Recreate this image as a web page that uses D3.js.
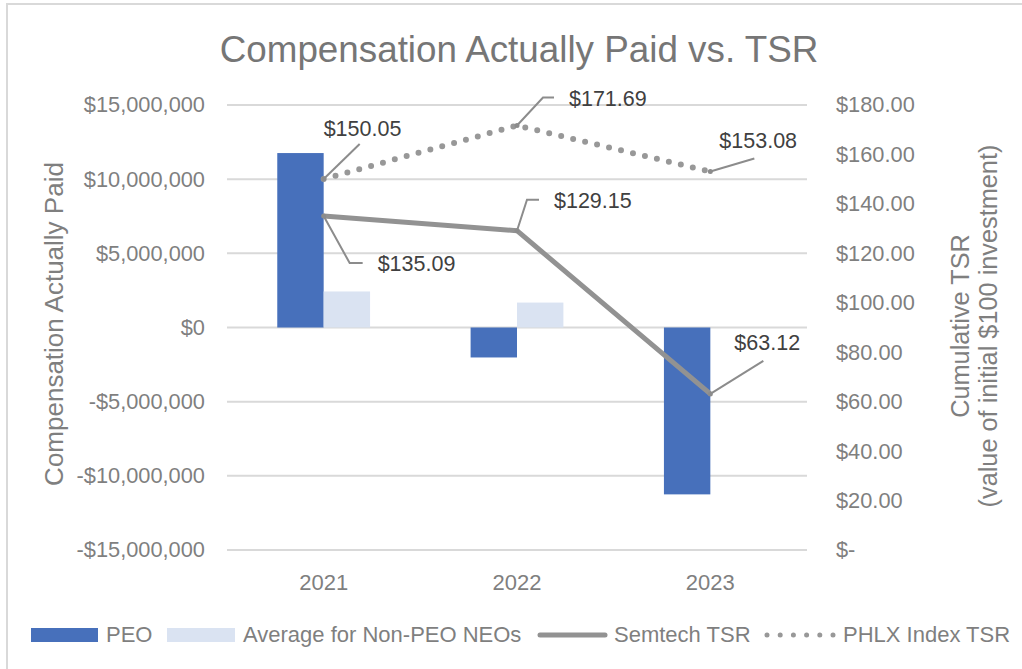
<!DOCTYPE html>
<html>
<head>
<meta charset="utf-8">
<script src="https://cdn.jsdelivr.net/npm/d3@7"></script>
<style>
  body { margin: 0; background: #fff; }
  svg { font-family: "Liberation Sans", Arial, sans-serif; }
</style>
</head>
<body>
<svg width="1022" height="669"></svg>
<script>
var years = ["2021", "2022", "2023"];
var peoCap = [11760000, -2020000, -11250000];
var nonPeoCap = [2430000, 1680000, 0];
var semtechTsr = [135.09, 129.15, 63.12];
var phlxTsr = [150.05, 171.69, 153.08];
var leftTicks = [-15000000, -10000000, -5000000, 0, 5000000, 10000000, 15000000];
var rightTicks = [0, 20, 40, 60, 80, 100, 120, 140, 160, 180];

var blue = "#4770bb", lightBlue = "#dae3f2", lineGrey = "#929292", dotGrey = "#989898";
var textGrey = "#7f7f7f";

var svg = d3.select("svg");

// outer frame
svg.append("rect")
  .attr("x", 7).attr("y", 4)
  .attr("width", 1040).attr("height", 700)
  .attr("fill", "none")
  .attr("stroke", "#d9d9d9")
  .attr("stroke-width", 2);

var plotLeft = 227, plotRight = 807, plotTop = 105, plotBottom = 550;

var x = d3.scaleBand().domain(years).range([plotLeft, plotRight])
  .paddingInner(0.52).paddingOuter(0.26);
var x1 = d3.scaleBand().domain(["peo", "non"]).range([0, x.bandwidth()]);
var yLeft = d3.scaleLinear().domain([-15000000, 15000000]).range([plotBottom, plotTop]);
var yRight = d3.scaleLinear().domain([0, 180]).range([plotBottom, plotTop]);

// title
svg.append("text")
  .attr("x", 519).attr("y", 62)
  .attr("text-anchor", "middle")
  .attr("font-size", 36.8)
  .attr("fill", "#767676")
  .text("Compensation Actually Paid vs. TSR");

// gridlines
svg.append("g")
  .selectAll("line")
  .data(leftTicks).enter().append("line")
  .attr("x1", plotLeft).attr("x2", plotRight)
  .attr("y1", function(d) { return yLeft(d); })
  .attr("y2", function(d) { return yLeft(d); })
  .attr("stroke", "#d9d9d9")
  .attr("stroke-width", 2);

function fmtMoney(v) {
  return v < 0 ? "-$" + d3.format(",")(-v) : "$" + d3.format(",")(v);
}

var leftAxis = d3.axisLeft(yLeft).tickValues(leftTicks).tickSize(0).tickPadding(0).tickFormat(fmtMoney);
var gl = svg.append("g").attr("transform", "translate(205,0)").call(leftAxis);
gl.select(".domain").remove();
gl.selectAll("text").attr("font-size", 21.8).attr("fill", textGrey).attr("font-family", null);

var rightAxis = d3.axisRight(yRight).tickValues(rightTicks).tickSize(0).tickPadding(0)
  .tickFormat(function(d) { return d === 0 ? "$-" : "$" + d3.format(".2f")(d); });
var gr = svg.append("g").attr("transform", "translate(836,0)").call(rightAxis);
gr.select(".domain").remove();
gr.selectAll("text").attr("font-size", 21.8).attr("fill", textGrey).attr("font-family", null);

// category labels
var xAxis = d3.axisBottom(x).tickSize(0).tickPadding(0);
var gx = svg.append("g").attr("transform", "translate(0,574)").call(xAxis);
gx.select(".domain").remove();
gx.selectAll("text").attr("font-size", 22).attr("fill", textGrey).attr("font-family", null);

// axis titles
svg.append("text")
  .attr("transform", "translate(63,324) rotate(-90)")
  .attr("text-anchor", "middle")
  .attr("font-size", 26)
  .attr("fill", textGrey)
  .text("Compensation Actually Paid");

var rt = svg.append("text")
  .attr("transform", "translate(969,326) rotate(-90)")
  .attr("text-anchor", "middle")
  .attr("font-size", 25.3)
  .attr("fill", textGrey);
rt.append("tspan").attr("x", 0).attr("dy", 0).text("Cumulative TSR");
rt.append("tspan").attr("x", 0).attr("dy", 28).text("(value of initial $100 investment)");

// bars
var barData = years.map(function(y, i) {
  return [{year: y, key: "peo", v: peoCap[i]}, {year: y, key: "non", v: nonPeoCap[i]}];
});
svg.append("g").selectAll("g")
  .data(barData).enter().append("g")
  .selectAll("rect")
  .data(function(d) { return d; }).enter().append("rect")
  .attr("x", function(d) { return x(d.year) + x1(d.key); })
  .attr("width", x1.bandwidth())
  .attr("y", function(d) { return yLeft(Math.max(0, d.v)); })
  .attr("height", function(d) { return Math.abs(yLeft(d.v) - yLeft(0)); })
  .attr("fill", function(d) { return d.key === "peo" ? blue : lightBlue; });

// lines
function cx(i) { return x(years[i]) + x.bandwidth() / 2; }
var line = d3.line()
  .x(function(d, i) { return cx(i); })
  .y(function(d) { return yRight(d); });

svg.append("path")
  .datum(phlxTsr)
  .attr("d", line)
  .attr("fill", "none")
  .attr("stroke", dotGrey)
  .attr("stroke-width", 6)
  .attr("stroke-linecap", "round")
  .attr("stroke-dasharray", "0,12.3");

svg.append("path")
  .datum(semtechTsr)
  .attr("d", line)
  .attr("fill", "none")
  .attr("stroke", lineGrey)
  .attr("stroke-width", 5)
  .attr("stroke-linejoin", "round");

// data labels with leader lines (offsets from the point)
var semtechLabelPos = [
  {leader: [[26, 47], [39, 47]], tx: 54, ty: 47},
  {leader: [[10, -31], [22, -31]], tx: 37, ty: -30},
  {leader: [[53, -33]], tx: 24, ty: -51}
];
var phlxLabelPos = [
  {leader: [[36, -35]], tx: 0, ty: -51},
  {leader: [[26, -28], [37, -28]], tx: 52, ty: -27},
  {leader: [[44, -13]], tx: 9, ty: -31}
];

function drawLabels(values, pos) {
  values.forEach(function(v, i) {
    var px = cx(i), py = yRight(v);
    var pts = [[px, py]].concat(pos[i].leader.map(function(p) { return [px + p[0], py + p[1]]; }));
    svg.append("path")
      .attr("d", d3.line()(pts))
      .attr("fill", "none")
      .attr("stroke", "#8c8c8c")
      .attr("stroke-width", 2);
    svg.append("circle")
      .attr("cx", px).attr("cy", py).attr("r", 2.5)
      .attr("fill", "#8c8c8c");
    svg.append("text")
      .attr("x", px + pos[i].tx).attr("y", py + pos[i].ty)
      .attr("dy", "0.35em")
      .attr("font-size", 21.5)
      .attr("fill", "#404040")
      .text("$" + d3.format(".2f")(v));
  });
}
drawLabels(phlxTsr, phlxLabelPos);
drawLabels(semtechTsr, semtechLabelPos);

// legend
var lg = svg.append("g").attr("font-size", 22).attr("fill", textGrey);
lg.append("rect").attr("x", 31).attr("y", 628).attr("width", 67).attr("height", 14).attr("fill", blue);
lg.append("text").attr("x", 106).attr("y", 634).attr("dy", "0.35em").text("PEO");
lg.append("rect").attr("x", 167).attr("y", 628).attr("width", 68).attr("height", 14).attr("fill", lightBlue);
lg.append("text").attr("x", 243).attr("y", 634).attr("dy", "0.35em").text("Average for Non-PEO NEOs");
lg.append("line").attr("x1", 540).attr("x2", 605).attr("y1", 635).attr("y2", 635)
  .attr("stroke", lineGrey).attr("stroke-width", 5).attr("stroke-linecap", "round");
lg.append("text").attr("x", 614).attr("y", 634).attr("dy", "0.35em").text("Semtech TSR");
lg.append("line").attr("x1", 767).attr("x2", 834).attr("y1", 635).attr("y2", 635)
  .attr("stroke", dotGrey).attr("stroke-width", 5).attr("stroke-linecap", "round")
  .attr("stroke-dasharray", "0,13.2");
lg.append("text").attr("x", 843).attr("y", 634).attr("dy", "0.35em").text("PHLX Index TSR");
</script>
</body>
</html>
